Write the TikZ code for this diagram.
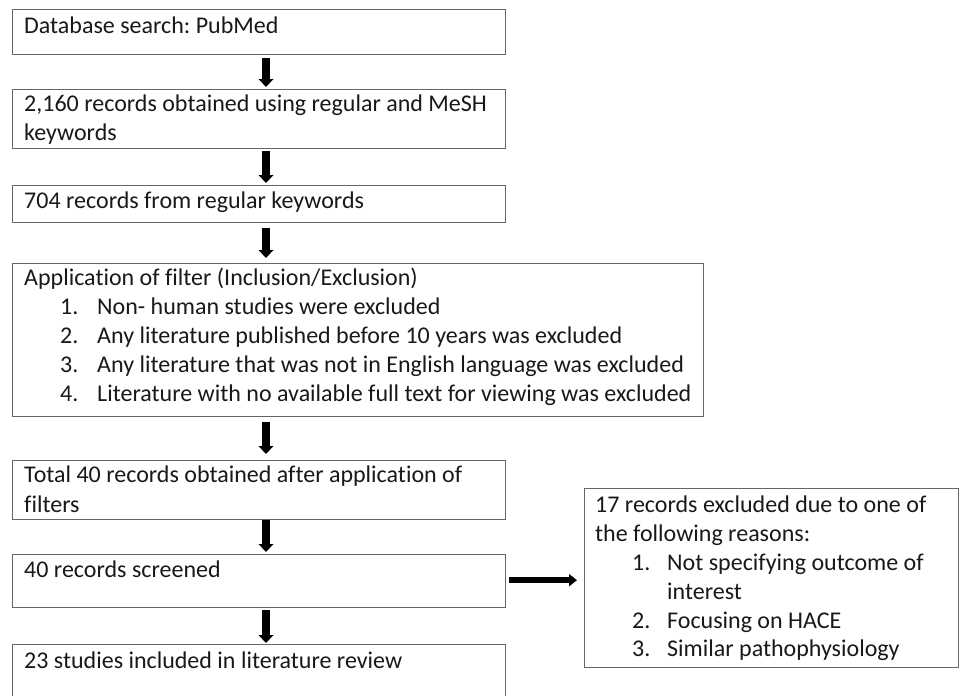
\documentclass[tikz,border=0pt]{standalone}
\usepackage{fontspec}
\setmainfont[Ligatures={NoCommon}]{Carlito}
\frenchspacing
\usetikzlibrary{arrows.meta}
\tikzset{
  box/.style={draw=black!60, line width=1.4pt, rectangle, inner sep=0pt, anchor=north west, fill=none},
  txt/.style={anchor=base west, inner sep=0pt, font=\fontsize{24}{29}\selectfont, text=black!90},
  varr/.style={line width=7.5pt, -{Triangle[width=14.5pt,length=8pt]}, shorten <=2pt, shorten >=2pt},
  harr/.style={line width=6.5pt, -{Triangle[width=12pt,length=8pt]}, shorten <=3pt, shorten >=7pt},
}
\begin{document}
\begin{tikzpicture}[x=1pt,y=-1pt]
\useasboundingbox[fill=white] (0,0) rectangle (959,696);
\coordinate (col) at (266,0);
% boxes
\node[box, minimum width=493pt, minimum height=45pt] (b1) at (12,9) {};
\node[box, minimum width=493pt, minimum height=59pt] (b2) at (12,89) {};
\node[box, minimum width=493pt, minimum height=37pt] (b3) at (12,185) {};
\node[box, minimum width=691pt, minimum height=153pt] (b4) at (12,263) {};
\node[box, minimum width=493pt, minimum height=59pt] (b5) at (12,460) {};
\node[box, minimum width=493pt, minimum height=53pt] (b6) at (12,554) {};
\node[box, minimum width=493pt, minimum height=90pt] (b7) at (12,644) {};
\node[box, minimum width=374pt, minimum height=179pt] (sb) at (584,488) {};
% texts
\node[txt] (t1) at (24,33) {Database search: PubMed};
\node[txt] (t2a) at (24,111.5) {2,160 records obtained using regular and MeSH};
\node[txt] (t2b) at (24,140.5) {keywords};
\node[txt] (t3) at (24,208.5) {704 records from regular keywords};
\node[txt] (t4) at (24,285.5) {Application of filter (Inclusion/Exclusion)};
\node[txt] (n41) at (60,314.5) {1.};
\node[txt] (t41) at (97,314.5) {Non- human studies were excluded};
\node[txt] (n42) at (60,343.5) {2.};
\node[txt] (t42) at (97,343.5) {Any literature published before 10 years was excluded};
\node[txt] (n43) at (60,372.5) {3.};
\node[txt] (t43) at (97,372.5) {Any literature that was not in English language was excluded};
\node[txt] (n44) at (60,401.5) {4.};
\node[txt] (t44) at (97,401.5) {Literature with no available full text for viewing was excluded};
\node[txt] (t5a) at (24,482.5) {Total 40 records obtained after application of};
\node[txt] (t5b) at (24,512.5) {filters};
\node[txt] (t6) at (24,577.5) {40 records screened};
\node[txt] (t7) at (24,668.5) {23 studies included in literature review};
\node[txt] (s1) at (595,512.5) {17 records excluded due to one of};
\node[txt] (s2) at (595,541.5) {the following reasons:};
\node[txt] (sn1) at (632,570.5) {1.};
\node[txt] (s3) at (667,570.5) {Not specifying outcome of};
\node[txt] (s4) at (667,599.5) {interest};
\node[txt] (sn2) at (632,628.5) {2.};
\node[txt] (s5) at (667,628.5) {Focusing on HACE};
\node[txt] (sn3) at (632,656.5) {3.};
\node[txt] (s6) at (667,656.5) {Similar pathophysiology};
% arrows
\draw[varr, shorten <=3pt] (b1.south -| col) -- (b2.north -| col);
\draw[varr] (b2.south -| col) -- (b3.north -| col);
\draw[varr, shorten <=5pt, shorten >=5pt] (b3.south -| col) -- (b4.north -| col);
\draw[varr, shorten <=5pt, shorten >=6pt] (b4.south -| col) -- (b5.north -| col);
\draw[varr, shorten <=0pt] (b5.south -| col) -- (b6.north -| col);
\draw[varr, shorten >=1pt] (b6.south -| col) -- (b7.north -| col);
\draw[harr] ([yshift=1pt]b6.east) -- ([yshift=1pt]b6.east -| sb.west);
\end{tikzpicture}
\end{document}
